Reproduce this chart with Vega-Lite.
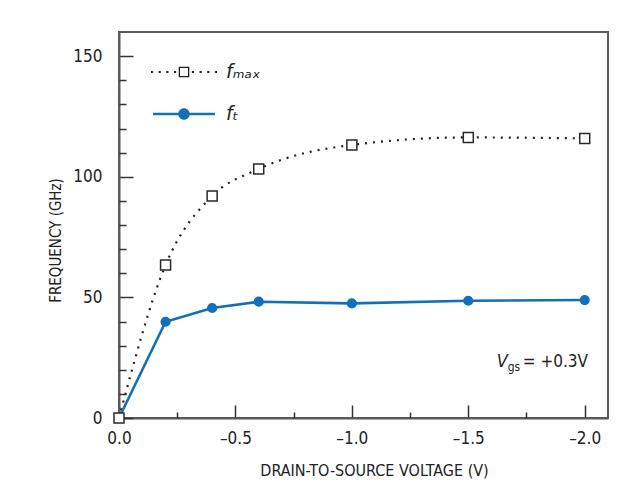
{
  "$schema": "https://vega.github.io/schema/vega-lite/v6.json",
  "width": 489,
  "height": 386,
  "autosize": "none",
  "padding": {"left": 119, "top": 32, "right": 27, "bottom": 85},
  "background": "white",
  "config": {
    "view": {"stroke": "#5a5a5a", "strokeWidth": 2},
    "axis": {"grid": false, "labelFont": "DejaVu Sans Condensed, Roboto Condensed, Roboto, sans-serif", "titleFont": "DejaVu Sans Condensed, Roboto Condensed, Roboto, sans-serif", "labelColor": "#222222", "titleColor": "#222222", "titleFontWeight": "normal"},
    "text": {"font": "DejaVu Sans Condensed, Roboto Condensed, Roboto, sans-serif", "color": "#222222"}
  },
  "datasets": {
    "freq": [
      {"vds": 0, "series": "fmax", "ghz": 0},
      {"vds": -0.2, "series": "fmax", "ghz": 63.4},
      {"vds": -0.4, "series": "fmax", "ghz": 92.0},
      {"vds": -0.6, "series": "fmax", "ghz": 103.2},
      {"vds": -1.0, "series": "fmax", "ghz": 113.2},
      {"vds": -1.5, "series": "fmax", "ghz": 116.3},
      {"vds": -2.0, "series": "fmax", "ghz": 115.9},
      {"vds": 0, "series": "ft", "ghz": 0},
      {"vds": -0.2, "series": "ft", "ghz": 39.9},
      {"vds": -0.4, "series": "ft", "ghz": 45.6},
      {"vds": -0.6, "series": "ft", "ghz": 48.2},
      {"vds": -1.0, "series": "ft", "ghz": 47.5},
      {"vds": -1.5, "series": "ft", "ghz": 48.6},
      {"vds": -2.0, "series": "ft", "ghz": 48.9}
    ],
    "note": [{"v": "V", "sub": "gs", "rest": "= +0.3V"}]
  },
  "data": {"name": "freq"},
  "resolve": {"axis": {"x": "independent", "y": "independent"}},
  "layer": [
    {
      "transform": [{"filter": "datum.series === 'fmax'"}],
      "mark": {"type": "line", "interpolate": "monotone", "strokeWidth": 2.2, "strokeDash": [2, 6]},
      "encoding": {
        "x": {
          "field": "vds", "type": "quantitative",
          "scale": {"domain": [0, -2.1], "nice": false, "zero": false},
          "axis": {
            "orient": "bottom",
            "title": "DRAIN-TO-SOURCE VOLTAGE (V)",
            "titleFontSize": 16,
            "titlePadding": 16,
            "titleX": 255,
            "values": [0, -0.5, -1, -1.5, -2],
            "labelExpr": "datum.value === 0 ? '0.0' : '–' + format(-datum.value, '.1f')",
            "labelFontSize": 17,
            "labelPadding": 25,
            "labelFlush": false,
            "tickSize": -13,
            "tickWidth": 1.5,
            "tickColor": "#333333",
            "domainColor": "#5a5a5a",
            "domainWidth": 2
          }
        },
        "y": {
          "field": "ghz", "type": "quantitative",
          "scale": {"domain": [0, 160], "nice": false},
          "axis": {
            "orient": "left",
            "title": "FREQUENCY (GHz)",
            "titleFontSize": 15,
            "titleX": -64,
            "titleY": 208,
            "titleBaseline": "middle",
            "values": [0, 50, 100, 150],
            "labelFontSize": 17,
            "labelPadding": 31,
            "tickSize": -14,
            "tickWidth": 1.5,
            "tickColor": "#333333",
            "domainColor": "#5a5a5a",
            "domainWidth": 2
          }
        },
        "order": {"field": "vds", "sort": "descending"},
        "color": {
          "field": "series", "type": "nominal",
          "scale": {"domain": ["fmax", "ft"], "range": ["#222222", "#1170b8"]},
          "legend": {
            "orient": "none",
            "legendX": 33,
            "legendY": 8,
            "title": null,
            "padding": 0,
            "symbolSize": 4096,
            "symbolStrokeWidth": 0,
            "rowPadding": -26,
            "labelOffset": 10,
            "labelFont": "DejaVu Sans",
            "labelFontSize": 19,
            "labelFontStyle": "italic",
            "labelColor": "#222222",
            "labelExpr": "datum.value === 'fmax' ? 'fₘₐₓ' : 'fₜ'",
            "encode": {
              "symbols": {
                "update": {
                  "shape": {"signal": "datum.value === 'fmax' ? 'M-1.033,-0.033h0.066v0.066h-0.066ZM-0.793,-0.033h0.066v0.066h-0.066ZM-0.553,-0.033h0.066v0.066h-0.066ZM-0.313,-0.033h0.066v0.066h-0.066ZM0.247,-0.033h0.066v0.066h-0.066ZM0.487,-0.033h0.066v0.066h-0.066ZM0.727,-0.033h0.066v0.066h-0.066ZM0.967,-0.033h0.066v0.066h-0.066ZM-0.166,-0.166H0.166V0.166H-0.166ZM-0.124,-0.124V0.124H0.124V-0.124Z' : 'M-0.97,-0.04H-0.17V0.04H-0.97ZM0.17,-0.04H0.97V0.04H0.17ZM-0.18,0A0.18,0.18 0 1,1 0.18,0A0.18,0.18 0 1,1 -0.18,0Z'"},
                  "fill": {"signal": "datum.value === 'fmax' ? '#222222' : '#1170b8'"},
                  "fillOpacity": {"value": 1},
                  "stroke": {"value": "transparent"},
                  "strokeDash": {"value": []},
                  "opacity": {"value": 1}
                }
              }
            }
          }
        }
      }
    },
    {
      "transform": [{"filter": "datum.series === 'ft'"}],
      "mark": {"type": "line", "interpolate": "linear", "strokeWidth": 2.6, "color": "#1170b8"},
      "encoding": {
        "x": {"field": "vds", "type": "quantitative", "axis": null},
        "y": {"field": "ghz", "type": "quantitative", "axis": null},
        "order": {"field": "vds", "sort": "descending"}
      }
    },
    {
      "transform": [{"filter": "datum.series === 'ft'"}],
      "mark": {"type": "point", "shape": "circle", "filled": true, "color": "#1170b8", "size": 104, "opacity": 1},
      "encoding": {
        "x": {
          "field": "vds", "type": "quantitative",
          "axis": {"orient": "bottom", "title": null, "labels": false, "domain": false, "values": [-0.25, -0.75, -1.25, -1.75], "tickSize": -6, "tickWidth": 1.5, "tickColor": "#333333"}
        },
        "y": {
          "field": "ghz", "type": "quantitative",
          "axis": {"orient": "left", "title": null, "labels": false, "domain": false, "values": [10, 20, 30, 40, 60, 70, 80, 90, 110, 120, 130, 140], "tickSize": -7, "tickWidth": 1.5, "tickColor": "#333333"}
        }
      }
    },
    {
      "transform": [{"filter": "datum.series === 'fmax'"}],
      "mark": {"type": "point", "shape": "square", "filled": false, "fill": "white", "fillOpacity": 1, "stroke": "#2a2a2a", "strokeWidth": 1.5, "size": 100, "opacity": 1},
      "encoding": {
        "x": {"field": "vds", "type": "quantitative", "axis": null},
        "y": {"field": "ghz", "type": "quantitative", "axis": null}
      }
    },
    {
      "data": {"name": "note"},
      "mark": {"type": "text", "align": "left", "baseline": "alphabetic", "fontSize": 18, "fontStyle": "italic", "dx": -88},
      "encoding": {
        "x": {"datum": -2.0, "type": "quantitative", "axis": null},
        "y": {"datum": 21.3, "type": "quantitative", "axis": null},
        "text": {"field": "v"}
      }
    },
    {
      "data": {"name": "note"},
      "mark": {"type": "text", "align": "left", "baseline": "alphabetic", "fontSize": 12, "dx": -77, "dy": 4},
      "encoding": {
        "x": {"datum": -2.0, "type": "quantitative", "axis": null},
        "y": {"datum": 21.3, "type": "quantitative", "axis": null},
        "text": {"field": "sub"}
      }
    },
    {
      "data": {"name": "note"},
      "mark": {"type": "text", "align": "left", "baseline": "alphabetic", "fontSize": 17, "dx": -62},
      "encoding": {
        "x": {"datum": -2.0, "type": "quantitative", "axis": null},
        "y": {"datum": 21.3, "type": "quantitative", "axis": null},
        "text": {"field": "rest"}
      }
    }
  ]
}
